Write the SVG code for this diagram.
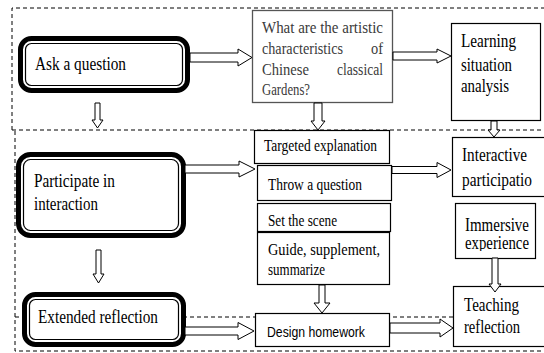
<svg xmlns="http://www.w3.org/2000/svg" width="544" height="353" viewBox="0 0 544 353">
<style>
.dash{fill:none;stroke:#000;stroke-width:1;stroke-dasharray:4 3}
.outer{fill:#fff;stroke:#000;stroke-width:5}
.inner{fill:none;stroke:#000;stroke-width:1.2}
.box{fill:#fff;stroke:#000;stroke-width:1.2}
.gbox{fill:#fff;stroke:#555;stroke-width:1.3}
.arr{fill:#fff;stroke:#000;stroke-width:1}
.t{font-family:"Liberation Serif","Times New Roman",serif;fill:#000}
.g{fill:#3a3a3a}
.s{font-family:"Liberation Sans",Arial,sans-serif;fill:#000}
</style>
<defs>
<clipPath id="clipImm"><rect x="455" y="203" width="82" height="48"/></clipPath>
</defs>
<rect width="544" height="353" fill="#fff"/>
<g id="regions">
<path class="dash" d="M12,130 V8 H546"/>
<path class="dash" d="M12,130 H546"/>
<path class="dash" d="M15,131 V351 H546"/>
<path class="dash" d="M15,317 H453"/>
</g>
<g id="ask">
<rect class="outer" x="20.5" y="38.5" width="167" height="52" rx="11"/>
<rect class="inner" x="25.5" y="43.5" width="157" height="42" rx="6"/>
<text class="t" x="35" y="70" font-size="19" textLength="91" lengthAdjust="spacingAndGlyphs">Ask a question</text>
</g>
<g id="participate">
<rect class="outer" x="18.5" y="154.5" width="165" height="81" rx="12"/>
<rect class="inner" x="23.5" y="159.5" width="155" height="71" rx="7"/>
<text class="t" x="34" y="187" font-size="18" textLength="81" lengthAdjust="spacingAndGlyphs">Participate in</text>
<text class="t" x="34" y="210" font-size="18" textLength="64" lengthAdjust="spacingAndGlyphs">interaction</text>
</g>
<g id="extended">
<rect class="outer" x="24.5" y="294.5" width="159" height="50" rx="11"/>
<rect class="inner" x="29.5" y="299.5" width="149" height="40" rx="6"/>
<text class="t" x="38" y="323" font-size="19" textLength="120" lengthAdjust="spacingAndGlyphs">Extended reflection</text>
</g>
<g id="question">
<rect class="gbox" x="252.5" y="10.5" width="140" height="92"/>
<g class="t g" font-size="16.5">
<text x="262" y="33" textLength="121" lengthAdjust="spacingAndGlyphs">What are the artistic</text>
<text x="262" y="54" textLength="81" lengthAdjust="spacingAndGlyphs">characteristics</text>
<text x="371" y="54" textLength="12" lengthAdjust="spacingAndGlyphs">of</text>
<text x="262" y="75" textLength="47" lengthAdjust="spacingAndGlyphs">Chinese</text>
<text x="337" y="75" textLength="46" lengthAdjust="spacingAndGlyphs">classical</text>
<text x="262" y="95" textLength="48" lengthAdjust="spacingAndGlyphs">Gardens?</text>
</g>
</g>
<g id="learning">
<rect class="box" x="451.5" y="23.5" width="89" height="97"/>
<text class="t" x="461" y="47" font-size="19" textLength="55" lengthAdjust="spacingAndGlyphs">Learning</text>
<text class="t" x="461" y="71" font-size="19" textLength="51" lengthAdjust="spacingAndGlyphs">situation</text>
<text class="t" x="461" y="92" font-size="19" textLength="48" lengthAdjust="spacingAndGlyphs">analysis</text>
</g>
<g id="targeted">
<rect class="box" x="254.5" y="130.5" width="135" height="33"/>
<text class="t" x="264" y="151" font-size="16" textLength="113" lengthAdjust="spacingAndGlyphs">Targeted explanation</text>
</g>
<g id="throw">
<rect class="box" x="257.5" y="165.5" width="134" height="35"/>
<text class="t" x="268" y="190" font-size="16" textLength="94" lengthAdjust="spacingAndGlyphs">Throw a question</text>
</g>
<g id="scene">
<rect class="box" x="257.5" y="203.5" width="133" height="28"/>
<text class="t" x="268" y="226" font-size="16" textLength="69" lengthAdjust="spacingAndGlyphs">Set the scene</text>
</g>
<g id="guide">
<rect class="box" x="257.5" y="232.5" width="132" height="52"/>
<text class="t" x="268" y="255" font-size="16" textLength="112" lengthAdjust="spacingAndGlyphs">Guide,   supplement,</text>
<text class="t" x="268" y="275" font-size="16" textLength="57" lengthAdjust="spacingAndGlyphs">summarize</text>
</g>
<g id="homework">
<rect class="box" x="255.5" y="313.5" width="134" height="33"/>
<text class="s" x="267" y="337" font-size="14.5" textLength="98" lengthAdjust="spacingAndGlyphs">Design homework</text>
</g>
<g id="interactive">
<rect class="box" x="452.5" y="137.5" width="94" height="59"/>
<text class="t" x="462" y="161" font-size="19" textLength="65" lengthAdjust="spacingAndGlyphs">Interactive</text>
<text class="t" x="462" y="186" font-size="19" textLength="70" lengthAdjust="spacingAndGlyphs">participatio</text>
</g>
<g id="immersive">
<rect class="box" x="455.5" y="203.5" width="80" height="55"/>
<g clip-path="url(#clipImm)">
<text class="t" x="465" y="231" font-size="18" textLength="64" lengthAdjust="spacingAndGlyphs">Immersive</text>
<text class="t" x="465" y="249" font-size="18" textLength="64" lengthAdjust="spacingAndGlyphs">experience</text>
</g>
</g>
<g id="teaching">
<rect class="box" x="453.5" y="286.5" width="93" height="60"/>
<text class="t" x="464" y="311" font-size="19" textLength="55" lengthAdjust="spacingAndGlyphs">Teaching</text>
<text class="t" x="464" y="333" font-size="19" textLength="56" lengthAdjust="spacingAndGlyphs">reflection</text>
</g>
<g id="connectors">
<polygon class="arr" points="190,53 238,53 238,49 252,57.5 238,66 238,62 190,62"/>
<polygon class="arr" points="393,52 437,52 437,49 451,56 437,63 437,60 393,60"/>
<polygon class="arr" points="185,165 239,165 239,161 255,169 239,177 239,173 185,173"/>
<polygon class="arr" points="392,166.5 437,166.5 437,162.5 451,170 437,177.5 437,173.5 392,173.5"/>
<polygon class="arr" points="185,327 238,327 238,322.5 254,331 238,339.5 238,335 185,335"/>
<polygon class="arr" points="390,323 440,323 440,319 453,328 440,337 440,333 390,333"/>
<polygon class="arr" points="95,103 100,103 100,120 103,120 97.5,128 92,120 95,120"/>
<polygon class="arr" points="96,250 101,250 101,274 104,274 98.5,283 93,274 96,274"/>
<polygon class="arr" points="314,103 322,103 322,121 325,121 318,130 311,121 314,121"/>
<polygon class="arr" points="491,121 497,121 497,130 500,130 494,137 488,130 491,130"/>
<polygon class="arr" points="319,285 325,285 325,303 330,303 322,313 314,303 319,303"/>
<polygon class="arr" points="492,258 498,258 498,284 501,284 495,292 489,284 492,284"/>
</g>
</svg>
